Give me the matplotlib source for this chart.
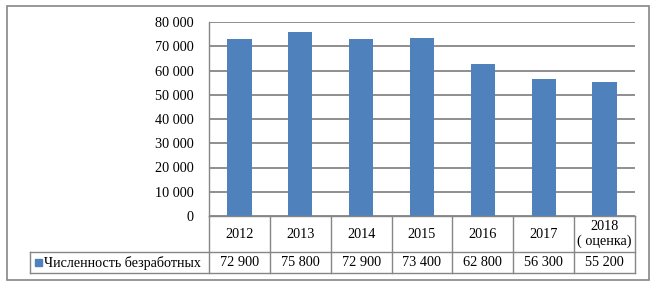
import matplotlib
matplotlib.use('Agg')
import matplotlib.pyplot as plt
from matplotlib.patches import Rectangle

years = ['2012', '2013', '2014', '2015', '2016', '2017', '2018\n( оценка)']
unemployed = [72900, 75800, 72900, 73400, 62800, 56300, 55200]
series_name = 'Численность безработных'
yticks = [0, 10000, 20000, 30000, 40000, 50000, 60000, 70000, 80000]

W, H = 656, 288
bar_color = '#4F81BD'
line_color = '#868686'
plt.rcParams['font.family'] = ['Liberation Serif', 'DejaVu Serif']


def fx(px):
    return px / W


def fy(py):
    return 1 - py / H


def fmt(v):
    return '{:,}'.format(v).replace(',', ' ')


fig = plt.figure(figsize=(W / 100, H / 100), dpi=100)

# outer frame
fig.patches.append(Rectangle((fx(7), fy(280)), fx(642), (280 - 6) / H,
                             transform=fig.transFigure, fill=False,
                             edgecolor=line_color, lw=1.2))

left, right, top, base = 209, 635, 22, 216
ax = fig.add_axes([fx(left), fy(base), fx(right - left), (base - top) / H])
x = range(len(unemployed))
ax.bar(x, unemployed, width=0.4, color=bar_color, zorder=3)
ax.set_xlim(-0.5, len(unemployed) - 0.5)
ax.set_ylim(0, 80000)
ax.set_yticks(yticks)
ax.set_yticklabels([fmt(v) for v in yticks], fontsize=10.3)
ax.tick_params(axis='y', length=0, pad=11)
ax.set_xticks([])
ax.grid(axis='y', color=line_color, lw=1.3, zorder=0)
for s in ['top', 'right', 'bottom']:
    ax.spines[s].set_visible(False)
ax.spines['left'].set_color(line_color)
ax.spines['left'].set_linewidth(1.0)

# data table below the chart
row1, row2, row3 = 216, 252, 273
legend_left = 30
col_w = (right - left) / len(unemployed)
kw = dict(color=line_color, lw=1.0, transform=fig.transFigure)
fig.add_artist(plt.Line2D([fx(left), fx(right)], [fy(row1), fy(row1)], **kw))
for yy in (row2, row3):
    fig.add_artist(plt.Line2D([fx(legend_left), fx(right)], [fy(yy), fy(yy)], **kw))
fig.add_artist(plt.Line2D([fx(legend_left), fx(legend_left)], [fy(row2), fy(row3)], **kw))
for i in range(len(unemployed) + 1):
    xx = left + i * col_w
    fig.add_artist(plt.Line2D([fx(xx), fx(xx)], [fy(row1), fy(row3)], **kw))

for i, (yr, v) in enumerate(zip(years, unemployed)):
    cx = left + (i + 0.5) * col_w
    fig.text(fx(cx), fy((row1 + row2) / 2), yr, ha='center', va='center',
             fontsize=10.3, linespacing=1.1)
    fig.text(fx(cx), fy((row2 + row3) / 2), fmt(v), ha='center', va='center',
             fontsize=10.3)

fig.patches.append(Rectangle((fx(35), fy(266)), fx(7), 7 / H,
                             transform=fig.transFigure, color=bar_color))
fig.text(fx(44), fy((row2 + row3) / 2), series_name, ha='left', va='center',
         fontsize=10.1)

fig.savefig('out.png', dpi=100)
